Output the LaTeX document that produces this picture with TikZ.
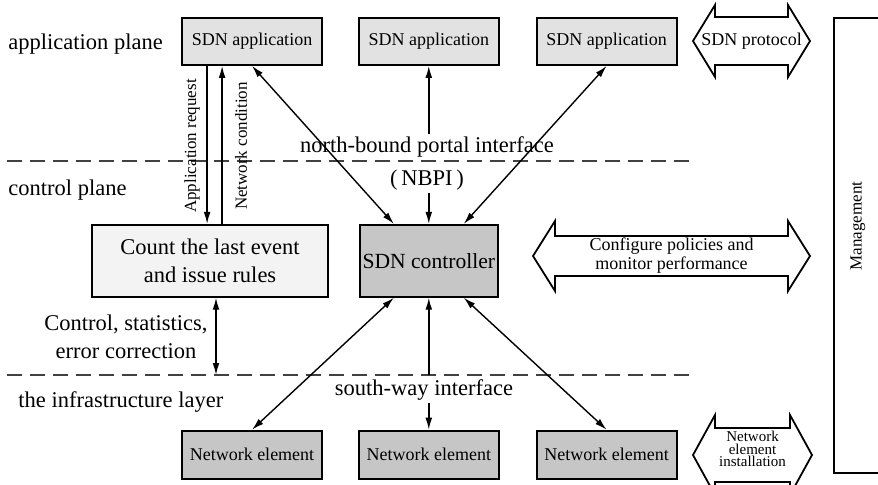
\documentclass[tikz,border=0pt]{standalone}
\usepackage{fontspec}
\setmainfont{Liberation Serif}
\usetikzlibrary{arrows.meta, positioning, calc}
\definecolor{appc}{RGB}{226,226,226}
\definecolor{ctrlc}{RGB}{198,198,198}
\definecolor{cntc}{RGB}{243,243,243}
\tikzset{
  lbl/.style={font=\fontsize{11.25}{14}\selectfont, inner sep=1pt},
  vlbl/.style={rotate=90, font=\fontsize{8.5}{10}\selectfont, inner sep=1pt},
  box/.style={draw, line width=0.9pt, fill=#1, minimum width=70pt,
              minimum height=23.5pt, inner sep=1pt, align=center,
              font=\fontsize{9}{11}\selectfont},
  box/.default=appc,
  arr/.style={-{Latex[length=6pt,width=3.4pt]}, line width=0.7pt},
  darr/.style={{Latex[length=6pt,width=3.4pt]}-{Latex[length=6pt,width=3.4pt]}, line width=0.7pt},
  planeline/.style={dash pattern=on 7.5pt off 4pt, line width=0.9pt, black!75},
  fatline/.style={line width=0.9pt},
  fattxt/.style={inner sep=1pt, align=center, font=\fontsize{9}{9.5}\selectfont},
}
% hollow double arrow: centre, half length, shaft half height, head half height
\newcommand{\fatarrow}[4]{%
  \draw[fatline] ($(#1)+(-#2,0)$) -- ++(22,-#4) -- ++(0,#4-#3) -- ++(2*#2-44,0)
    -- ++(0,#3-#4) -- ($(#1)+(#2,0)$) -- ++(-22,#4) -- ++(0,#3-#4)
    -- ++(-2*#2+44,0) -- ++(0,#4-#3) -- cycle;}

\begin{document}
\begin{tikzpicture}[x=0.5pt, y=-0.5pt]
  \useasboundingbox (0,0) rectangle (878,484);
  \clip (0,0) rectangle (878,484);
  % planes
  \draw[planeline] (7,161) coordinate (d1w) -- (692,161) coordinate (d1e);
  \draw[planeline] (7,375) coordinate (d2w) -- (692,375) coordinate (d2e);
  \node[lbl, anchor=west] (lap) at (6,44) {application plane};
  \node[lbl, anchor=west] (lcp) at (6,190) {control plane};
  \node[lbl, anchor=west] (lil) at (16,402) {the infrastructure layer};

  % application plane
  \node[box] (app1) at (252,41.5) {SDN application};
  \node[box, right=17.5pt of app1] (app2) {SDN application};
  \node[box, right=18pt of app2] (app3) {SDN application};

  % control plane
  \node[box=ctrlc, below=79pt of app2, minimum width=69pt, minimum height=36pt,
        font=\fontsize{10.8}{13}\selectfont] (ctrl) {SDN controller};
  \node[box=cntc, left=15pt of ctrl, minimum width=118pt, minimum height=36pt,
        font=\fontsize{11.25}{14}\selectfont] (count) {Count the last event\\and issue rules};

  % infrastructure layer
  \node[box=ctrlc, below=66pt of ctrl, minimum height=24pt] (ne2) {Network element};
  \node[box=ctrlc, left=17.5pt of ne2, minimum height=24pt] (ne1) {Network element};
  \node[box=ctrlc, right=18pt of ne2, minimum height=24pt] (ne3) {Network element};

  % interface labels
  \node[lbl] (nbi) at (427,147) {north-bound portal interface};
  \node[lbl] (nbpi) at (427,180) {(\,NBPI\,)};
  \node[lbl] (swi) at (424,390) {south-way interface};
  \node[lbl, align=center] (ces) at (126,337) {Control, statistics,\\error correction};
  \node[vlbl] (areq) at (192,146) {Application request};
  \node[vlbl] (ncond) at (241,146) {Network condition};

  % connectors
  \coordinate (reqtop) at ($(app1.south west)+(26,0)$);
  \coordinate (condtop) at ($(app1.south west)+(41,0)$);
  \draw[arr] (reqtop) -- (reqtop |- count.north);
  \draw[arr] (condtop |- count.north) -- (condtop);
  \draw[darr] (app1.south) -- ($(ctrl.north west)!0.25!(ctrl.north east)$);
  \draw[arr] (app2.south |- nbi.north) -- (app2.south);
  \draw[arr] (ctrl.north |- nbpi.south) -- (ctrl.north);
  \draw[darr] (app3.south) -- ($(ctrl.north west)!0.75!(ctrl.north east)$);
  \coordinate (cntdn) at ($(count.south)+(6,0)$);
  \draw[darr] (cntdn) -- (cntdn |- d2w);
  \draw[darr] ($(ctrl.south west)!0.25!(ctrl.south east)$) -- (ne1.north);
  \draw[arr] (ctrl.south |- d2w) -- (ctrl.south);
  \draw[arr] (ne2.north |- swi.south) -- (ne2.north);
  \draw[darr] ($(ctrl.south west)!0.75!(ctrl.south east)$) -- (ne3.north);

  % side arrows
  \node[fattxt] (proto) at (751.5,41) {SDN protocol};
  \fatarrow{proto}{58.5}{24}{36}
  \node[fattxt] (conf) at (671.5,256) {Configure policies and\\monitor performance};
  \fatarrow{conf}{138.5}{20}{35}
  \coordinate (instc) at (752.5,455);
  \node[fattxt, font=\fontsize{7.5}{6.2}\selectfont] (inst) at (752.5,449)
    {Network\\element\\installation};
  \fatarrow{instc}{59.5}{27}{40}

  % management
  \node[vlbl, font=\fontsize{8.5}{10}\selectfont] (mgmt) at (858,226) {Management};
  \draw[fatline] (880,18) -- (834,18) -- (834,473) -- (880,473);
\end{tikzpicture}
\end{document}
